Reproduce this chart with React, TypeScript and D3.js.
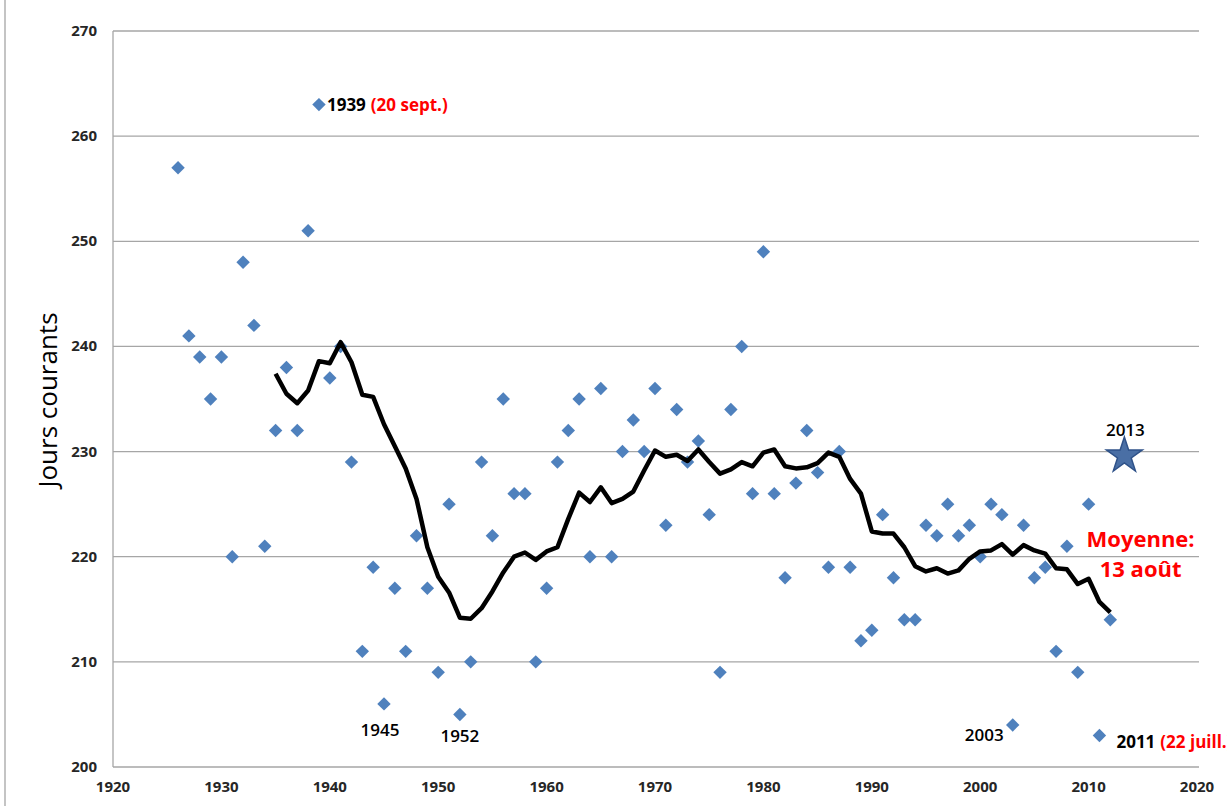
import * as d3 from 'd3';

// yearly values (day of year)
const years = [
  1926, 1927, 1928, 1929, 1930, 1931, 1932, 1933, 1934, 1935,
  1936, 1937, 1938, 1939, 1940, 1941, 1942, 1943, 1944, 1945,
  1946, 1947, 1948, 1949, 1950, 1951, 1952, 1953, 1954, 1955,
  1956, 1957, 1958, 1959, 1960, 1961, 1962, 1963, 1964, 1965,
  1966, 1967, 1968, 1969, 1970, 1971, 1972, 1973, 1974, 1975,
  1976, 1977, 1978, 1979, 1980, 1981, 1982, 1983, 1984, 1985,
  1986, 1987, 1988, 1989, 1990, 1991, 1992, 1993, 1994, 1995,
  1996, 1997, 1998, 1999, 2000, 2001, 2002, 2003, 2004, 2005,
  2006, 2007, 2008, 2009, 2010, 2011, 2012,
];
const days = [
  257, 241, 239, 235, 239, 220, 248, 242, 221, 232,
  238, 232, 251, 263, 237, 240, 229, 211, 219, 206,
  217, 211, 222, 217, 209, 225, 205, 210, 229, 222,
  235, 226, 226, 210, 217, 229, 232, 235, 220, 236,
  220, 230, 233, 230, 236, 223, 234, 229, 231, 224,
  209, 234, 240, 226, 249, 226, 218, 227, 232, 228,
  219, 230, 219, 212, 213, 224, 218, 214, 214, 223,
  222, 225, 222, 223, 220, 225, 224, 204, 223, 218,
  219, 211, 221, 209, 225, 203, 214,
];

// black line (10-year average)
const avgYears = [
  1935, 1936, 1937, 1938, 1939, 1940, 1941, 1942, 1943, 1944,
  1945, 1946, 1947, 1948, 1949, 1950, 1951, 1952, 1953, 1954,
  1955, 1956, 1957, 1958, 1959, 1960, 1961, 1962, 1963, 1964,
  1965, 1966, 1967, 1968, 1969, 1970, 1971, 1972, 1973, 1974,
  1975, 1976, 1977, 1978, 1979, 1980, 1981, 1982, 1983, 1984,
  1985, 1986, 1987, 1988, 1989, 1990, 1991, 1992, 1993, 1994,
  1995, 1996, 1997, 1998, 1999, 2000, 2001, 2002, 2003, 2004,
  2005, 2006, 2007, 2008, 2009, 2010, 2011, 2012,
];
const avgDays = [
  237.4, 235.5, 234.6, 235.8, 238.6, 238.4, 240.4, 238.5, 235.4, 235.2,
  232.6, 230.5, 228.4, 225.5, 220.9, 218.1, 216.6, 214.2, 214.1, 215.1,
  216.7, 218.5, 220.0, 220.4, 219.7, 220.5, 220.9, 223.6, 226.1, 225.2,
  226.6, 225.1, 225.5, 226.2, 228.2, 230.1, 229.5, 229.7, 229.1, 230.2,
  229.0, 227.9, 228.3, 229.0, 228.6, 229.9, 230.2, 228.6, 228.4, 228.5,
  228.9, 229.9, 229.5, 227.4, 226.0, 222.4, 222.2, 222.2, 220.9, 219.1,
  218.6, 218.9, 218.4, 218.7, 219.8, 220.5, 220.6, 221.2, 220.2, 221.1,
  220.6, 220.3, 218.9, 218.8, 217.4, 217.9, 215.7, 214.7,
];

const meanDay = 225;
const starYear = 2013.3;
const starDay = 229.6;

const xTicks = [1920, 1930, 1940, 1950, 1960, 1970, 1980, 1990, 2000, 2010, 2020];
const yTicks = [200, 210, 220, 230, 240, 250, 260, 270];

const noteLabels = ['1939', '1945', '1952', '2003', '2011', '2013'];
const noteExtras = ['(20 sept.)', '', '', '', '(22 juill.)', ''];
const noteYears = [1939, 1945, 1952, 2003, 2011, 2013.3];
const noteDays = [263, 206, 205, 204, 203, 229.6];
const meanText = ['Moyenne:', '13 août'];

const FONT = '"Open Sans", "Noto Sans", sans-serif';

// label placement relative to the marker
const notePlace: Record<string, { dx: number; dy: number; anchor: string; weight: number }> = {
  '1939': { dx: 8, dy: 6, anchor: 'start', weight: 700 },
  '1945': { dx: -4, dy: 32, anchor: 'middle', weight: 600 },
  '1952': { dx: 0, dy: 28, anchor: 'middle', weight: 600 },
  '2003': { dx: -9, dy: 16, anchor: 'end', weight: 600 },
  '2011': { dx: 17, dy: 13, anchor: 'start', weight: 700 },
  '2013': { dx: 1, dy: -20, anchor: 'middle', weight: 600 },
};

const App = () => {
  const width = 1227;
  const height = 806;

  const x = d3.scaleLinear().domain([1920, 2020]).range([113, 1197]);
  const y = d3.scaleLinear().domain([200, 270]).range([767, 31]);

  const line = d3
    .line<number>()
    .x((_, i) => x(avgYears[i]))
    .y((d) => y(d));

  const diamond = d3.symbol(d3.symbolSquare, 90)();
  const starPath = d3.symbol(d3.symbolStar, 400)();

  return (
    <div>
      <style>{'body{margin:0}'}</style>
      <svg width={width} height={height} style={{ display: 'block', background: '#fff' }}>
        <defs>
          <filter id='shadow' x='-5%' y='-200%' width='110%' height='500%'>
            <feDropShadow dx='0' dy='2' stdDeviation='1.5' floodColor='#000' floodOpacity='0.35' />
          </filter>
        </defs>

        {/* frame line on the far left */}
        <line x1={5} x2={5} y1={0} y2={height} stroke='#b0b0b0' strokeWidth={1.5} />

        {/* grid */}
        {yTicks.map((t) => (
          <line key={'g' + t} x1={x(1920)} x2={x(2020) + 2} y1={y(t)} y2={y(t)} stroke='#a6a6a6' strokeWidth={1.3} />
        ))}
        <line x1={x(1920)} x2={x(1920)} y1={y(270)} y2={y(200)} stroke='#a6a6a6' strokeWidth={1.3} />

        {/* axis labels */}
        {yTicks.map((t) => (
          <text key={'y' + t} x={97} y={y(t) + 5} textAnchor='end' fontFamily={FONT} fontWeight={700} fontSize={15} fill='#262626'>
            {t}
          </text>
        ))}
        {xTicks.map((t) => (
          <text key={'x' + t} x={x(t)} y={y(200) + 25} textAnchor='middle' fontFamily={FONT} fontWeight={700} fontSize={15} fill='#262626'>
            {t}
          </text>
        ))}
        <text
          transform={`translate(57,400) rotate(-90)`}
          textAnchor='middle'
          fontFamily={FONT}
          fontSize={26}
          fill='#000'
        >
          Jours courants
        </text>

        {/* mean line */}
        <line
          x1={x(1920) - 7}
          x2={x(2020) + 6}
          y1={y(meanDay)}
          y2={y(meanDay)}
          stroke='#4a7ebb'
          strokeWidth={4}
          filter='url(#shadow)'
        />

        {/* points */}
        {days.map((d, i) => (
          <path
            key={'p' + years[i]}
            d={diamond}
            transform={`translate(${x(years[i])},${y(d)}) rotate(45)`}
            fill='#4f81bd'
          />
        ))}

        {/* average line */}
        <path d={line(avgDays) || ''} fill='none' stroke='#000' strokeWidth={4.5} strokeLinejoin='round' />

        {/* 2013 star */}
        <path
          d={starPath}
          transform={`translate(${x(starYear)},${y(starDay)})`}
          fill='#4a6fa5'
          stroke='#2f5289'
          strokeWidth={1.5}
        />

        {/* annotations */}
        {noteLabels.map((lab, i) => {
          const p = notePlace[lab];
          return (
            <text
              key={'n' + lab}
              x={x(noteYears[i]) + p.dx}
              y={y(noteDays[i]) + p.dy}
              textAnchor={p.anchor}
              fontFamily={FONT}
              fontWeight={p.weight}
              fontSize={17}
              fill='#000'
            >
              {lab}
              {noteExtras[i] && (
                <tspan fill='#ff0000' dx={5}>
                  {noteExtras[i]}
                </tspan>
              )}
            </text>
          );
        })}

        {meanText.map((t, i) => (
          <text
            key={'m' + i}
            x={x(2014.8)}
            y={y(meanDay) + 43 + i * 30}
            textAnchor='middle'
            fontFamily={FONT}
            fontWeight={700}
            fontSize={22}
            fill='#ff0000'
          >
            {t}
          </text>
        ))}
      </svg>
    </div>
  );
};

export default App;
